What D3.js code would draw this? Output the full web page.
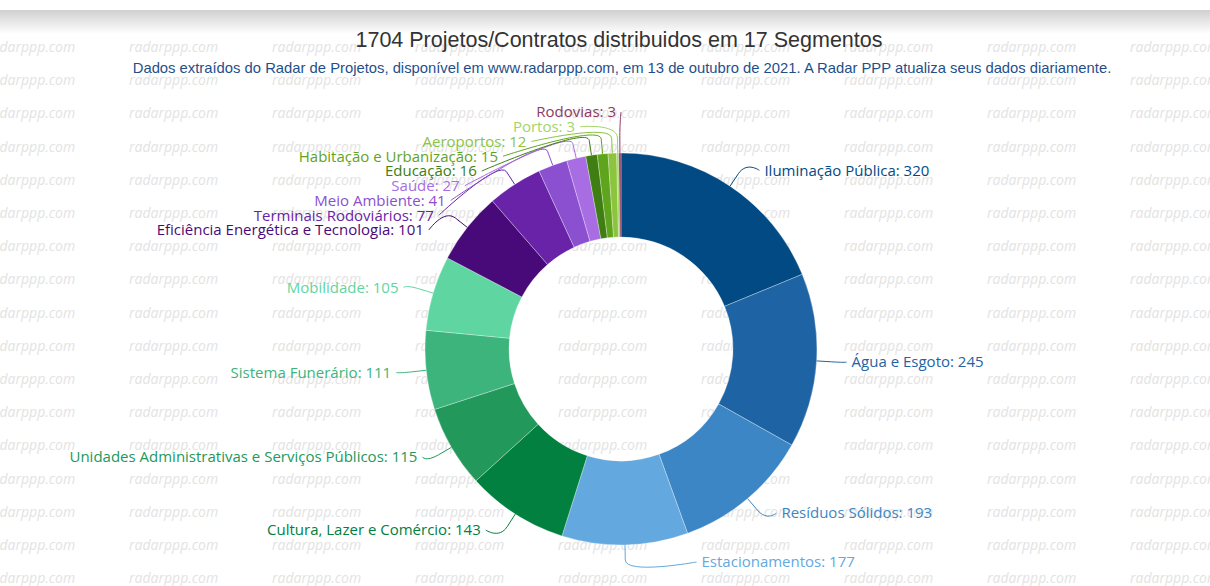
<!DOCTYPE html>
<html>
<head>
<meta charset="utf-8">
<script src="https://cdn.jsdelivr.net/npm/d3@7.9.0/dist/d3.min.js"></script>
<style>
  html, body { margin: 0; padding: 0; background: #fff; }
  svg { display: block; }
  .label { font-family: "Open Sans", "Noto Sans", sans-serif; font-size: 15px; }
  .wm { font-family: "Open Sans", sans-serif; font-style: italic; font-size: 14px; fill: #e3e3e3; }
</style>
</head>
<body>
<svg id="chart" width="1210" height="586"></svg>
<script>
// segments, clockwise from the top
const categories = [
  'Iluminação Pública', 'Água e Esgoto', 'Resíduos Sólidos', 'Estacionamentos',
  'Cultura, Lazer e Comércio', 'Unidades Administrativas e Serviços Públicos',
  'Sistema Funerário', 'Mobilidade', 'Eficiência Energética e Tecnologia',
  'Terminais Rodoviários', 'Meio Ambiente', 'Saúde', 'Educação',
  'Habitação e Urbanização', 'Aeroportos', 'Portos', 'Rodovias'
];
const values = [320, 245, 193, 177, 143, 115, 111, 105, 101, 77, 41, 27, 16, 15, 12, 3, 3];
const colors = [
  '#014a84', '#1e64a4', '#3d86c6', '#63a9df',
  '#01803f', '#23985b', '#3cb47b', '#5fd6a1',
  '#490a79', '#6923a8', '#8a50cf', '#a86de3',
  '#3e7e12', '#5fa41d', '#8cc43e', '#a3d46a', '#8e3a63'
];
const title = '1704 Projetos/Contratos distribuidos em 17 Segmentos';
const subtitle = 'Dados extraídos do Radar de Projetos, disponível em www.radarppp.com, em 13 de outubro de 2021. A Radar PPP atualiza seus dados diariamente.';

const width = 1210, height = 586;
const cx = 621, cy = 349, outerR = 196, innerR = 112;
const labelTop = 112, labelBottom = 562, labelGap = 14.75;

const data = categories.map((name, i) => ({ name, value: values[i], color: colors[i] }));
const svg = d3.select('#chart');

// top shadow band
const defs = svg.append('defs');
const grad = defs.append('linearGradient').attr('id', 'topband')
  .attr('x1', 0).attr('y1', 0).attr('x2', 0).attr('y2', 1);
grad.append('stop').attr('offset', '0%').attr('stop-color', '#d0d0d0');
grad.append('stop').attr('offset', '100%').attr('stop-color', '#ffffff');
svg.append('rect').attr('x', 0).attr('y', 10).attr('width', width).attr('height', 24)
  .attr('fill', 'url(#topband)');

// watermark
const wm = svg.append('g');
d3.range(17).forEach((r) => {
  d3.range(9).forEach((c) => {
    wm.append('text').attr('class', 'wm')
      .attr('x', -14 + c * 143).attr('y', 52 + r * 33.2)
      .text('radarppp.com');
  });
});

// titles
svg.append('text')
  .attr('x', 619).attr('y', 47)
  .attr('text-anchor', 'middle')
  .style('font-family', '"Liberation Sans", Arial, sans-serif')
  .style('font-size', '21.5px')
  .attr('fill', '#333')
  .text(title);

svg.append('text')
  .attr('x', 622).attr('y', 73)
  .attr('text-anchor', 'middle')
  .style('font-family', '"Liberation Sans", Arial, sans-serif')
  .style('font-size', '14.8px')
  .attr('fill', '#1f4f8a')
  .text(subtitle);

// pie
const pie = d3.pie().sort(null).value((d) => d.value);
const arcs = pie(data);
const arcGen = d3.arc().innerRadius(innerR).outerRadius(outerR);

const g = svg.append('g').attr('transform', `translate(${cx},${cy})`);
g.selectAll('path.slice')
  .data(arcs)
  .join('path')
  .attr('class', 'slice')
  .attr('d', arcGen)
  .attr('fill', (d) => d.data.color)
  .attr('stroke', '#fff')
  .attr('stroke-opacity', 0.5)
  .attr('stroke-width', 0.6);

// label layout: natural position, then spread overlapping ones
const ry = outerR + 19, rx = outerR + 30;
const labels = arcs.map((a) => {
  const mid = (a.startAngle + a.endAngle) / 2;
  return {
    a, mid,
    left: mid > Math.PI,
    target: cy - ry * Math.cos(mid)
  };
});

function distribute(items) {
  items.sort((p, q) => p.target - q.target);
  let groups = items.map((d) => ({ items: [d] }));
  let merged = true;
  while (merged) {
    merged = false;
    groups.forEach((grp) => {
      const h = (grp.items.length - 1) * labelGap;
      let top = d3.mean(grp.items, (d) => d.target) - h / 2;
      top = Math.max(labelTop, Math.min(labelBottom - h, top));
      grp.top = top;
      grp.h = h;
    });
    for (let i = 1; i < groups.length; i++) {
      if (groups[i].top < groups[i - 1].top + groups[i - 1].h + labelGap) {
        groups[i - 1].items = groups[i - 1].items.concat(groups[i].items);
        groups.splice(i, 1);
        merged = true;
        break;
      }
    }
  }
  groups.forEach((grp) => grp.items.forEach((d, j) => { d.y = grp.top + j * labelGap; }));
}

distribute(labels.filter((d) => d.left));
distribute(labels.filter((d) => !d.left));

labels.forEach((d) => {
  const dy = d.y - cy;
  const dx = Math.sqrt(Math.max(0, rx * rx - dy * dy));
  d.x = d.left ? cx - dx : cx + dx;
  const s = Math.sin(d.mid), c = Math.cos(d.mid);
  d.edge = [cx + outerR * s, cy - outerR * c];
  d.brk = [cx + (outerR + 15) * s, cy - (outerR + 15) * c];
});

const lg = svg.append('g');
lg.selectAll('path')
  .data(labels)
  .join('path')
  .attr('fill', 'none')
  .attr('stroke', (d) => d.a.data.color)
  .attr('stroke-width', 1)
  .attr('d', (d) => {
    const p = d3.path();
    p.moveTo(d.x, d.y);
    p.bezierCurveTo(d.x, d.y, 2 * d.brk[0] - d.edge[0], 2 * d.brk[1] - d.edge[1], d.brk[0], d.brk[1]);
    p.lineTo(d.edge[0], d.edge[1]);
    return p.toString();
  });

lg.selectAll('text')
  .data(labels)
  .join('text')
  .attr('class', 'label')
  .attr('x', (d) => (d.left ? d.x - 5 : d.x + 5))
  .attr('y', d => d.y)
  .attr('dy', '0.35em')
  .attr('text-anchor', (d) => (d.left ? 'end' : 'start'))
  .attr('fill', (d) => d.a.data.color)
  .text((d) => `${d.a.data.name}: ${d.a.data.value}`);
</script>
</body>
</html>
